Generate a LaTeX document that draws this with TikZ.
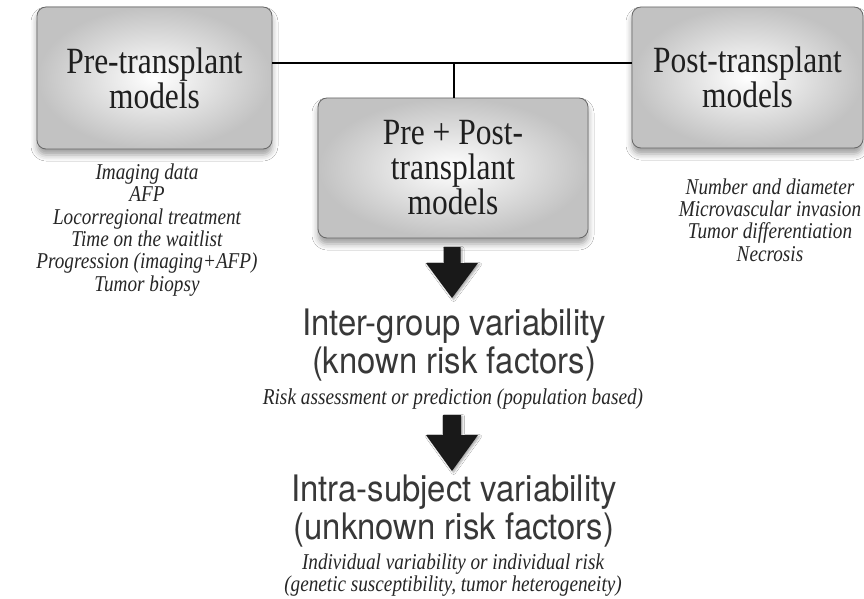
\documentclass[tikz,border=0pt]{standalone}
\usepackage{fontspec}
\setmainfont{Liberation Serif}[FakeStretch=0.85]
\setsansfont{TeX Gyre Heros}[FakeStretch=0.9]
\usetikzlibrary{shadows.blur,calc}
\tikzset{
  modelbox/.style={draw=black!60, line width=0.8pt, rounded corners=9pt,
    inner color=white, outer color=black!24,
    blur shadow={shadow xshift=0pt, shadow yshift=-6pt, shadow blur radius=6pt, shadow opacity=38},
    align=center, font=\fontsize{37}{35}\selectfont, text=black!88},
  listtext/.style={align=center, font=\fontsize{22.6}{22.3}\selectfont\itshape, text=black!85},
  headtext/.style={align=center, font=\sffamily\fontsize{36.5}{38}\selectfont, text=black!78},
  conn/.style={line width=1.3pt, black},
  blockarrow/.style={fill=black!90, blur shadow={shadow xshift=1.5pt, shadow yshift=-1.5pt, shadow blur radius=2pt, shadow opacity=35}}
}
\begin{document}
\begin{tikzpicture}[x=1pt,y=-1pt]
\fill[white] (0,0) rectangle (864,599);
\useasboundingbox (0,0) rectangle (864,599);

\node[modelbox, minimum width=235pt, minimum height=142pt] (pre) at (154.5,78) {Pre-transplant\\models};
\node[modelbox, minimum width=231pt, minimum height=141pt] (post) at (747.5,77.5) {Post-transplant\\models};
\node[modelbox, minimum width=270pt, minimum height=140pt] (mid) at (453,168) {Pre + Post-\\transplant\\models};

\coordinate (j) at (454,63);
\draw[conn] (pre.east |- j) -- (post.west |- j);
\draw[conn] (j) -- (mid.north -| j);

\node[listtext] (prelist) at (147,230) {Imaging data\\AFP\\Locorregional treatment\\Time on the waitlist\\Progression (imaging+AFP)\\Tumor biopsy};
\node[listtext] (postlist) at (770,220) {Number and diameter\\Microvascular invasion\\Tumor differentiation\\Necrosis};

\coordinate (a1) at (452,247);
\fill[blockarrow] (a1) ++(-8.5,0) -- ++(17,0) -- ++(0,16) -- ++(17.5,0) -- ++(-26,35) -- ++(-26,-35) -- ++(17.5,0) -- cycle;

\node[headtext] (inter) at (454,345) {Inter-group variability\\(known risk factors)};
\node[listtext, font=\fontsize{22.7}{22.3}\selectfont\itshape] (risk) at (453,399) {Risk assessment or prediction (population based)};

\coordinate (a2) at (452,415);
\fill[blockarrow] (a2) ++(-9,0) -- ++(18,0) -- ++(0,20) -- ++(17,0) -- ++(-26,36) -- ++(-26,-36) -- ++(17,0) -- cycle;

\node[headtext] (intra) at (454,511) {Intra-subject variability\\(unknown risk factors)};
\node[listtext] (indiv) at (453,575) {Individual variability or individual risk\\(genetic susceptibility, tumor heterogeneity)};
\end{tikzpicture}
\end{document}
